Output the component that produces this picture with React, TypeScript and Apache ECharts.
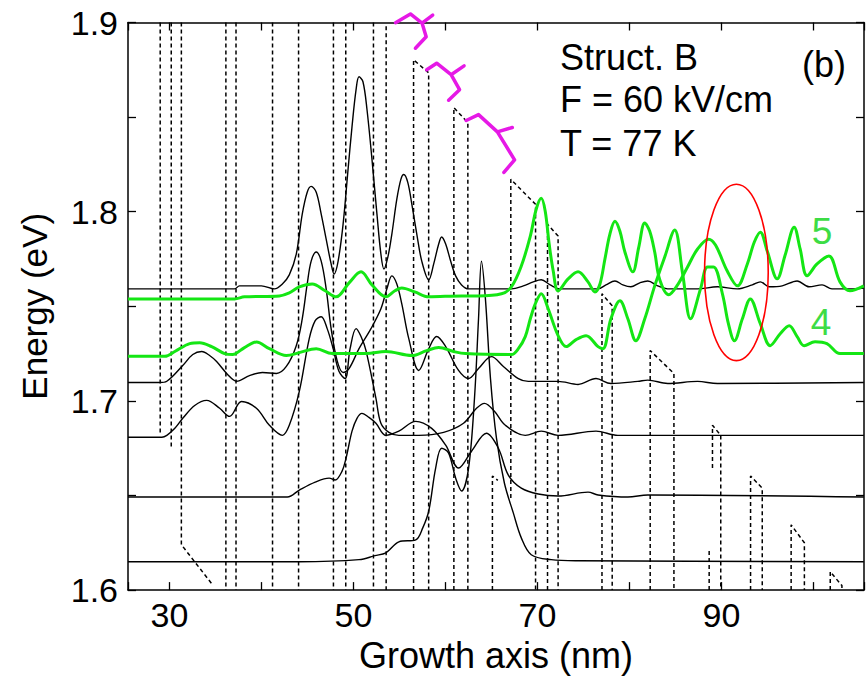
import React, { useEffect, useRef } from 'react';
import * as echarts from 'echarts';

type Pt = [number, number];

const FONT = '"Liberation Sans", Arial, Helvetica, sans-serif';

// axes
const xMin = 25.5;
const xMax = 105.5;
const yMin = 1.6;
const yMax = 1.9;
const xLabelValues = [30, 50, 70, 90];

// |psi|^2 of the states, drawn at their eigen-energies (nm, eV)
const levelA: Pt[] = [
  [25.5, 1.7592], [37.08, 1.7592], [37.62, 1.7608], [40.0, 1.7608], [41.41, 1.7592], [42.28, 1.7618],
  [43.03, 1.7666], [43.79, 1.7776], [44.44, 1.7987], [44.98, 1.8103], [45.41, 1.8134], [45.96, 1.8103],
  [46.5, 1.7987], [47.04, 1.7855], [47.58, 1.7724], [47.9, 1.7671], [48.34, 1.7739], [48.88, 1.7934],
  [49.42, 1.8224], [49.85, 1.845], [50.29, 1.8645], [50.61, 1.8713], [51.04, 1.8687], [51.48, 1.8539],
  [52.02, 1.8276], [52.56, 1.7987], [52.99, 1.7776], [53.32, 1.7697], [53.75, 1.7761], [54.18, 1.7882],
  [54.72, 1.8066], [55.16, 1.8171], [55.48, 1.8197], [55.91, 1.8155], [56.35, 1.804], [56.89, 1.7882],
  [57.43, 1.7739], [58.19, 1.764], [58.73, 1.7724], [59.27, 1.7829], [59.59, 1.7866], [60.03, 1.7829],
  [60.57, 1.7739], [61.11, 1.7661], [61.76, 1.7613], [62.52, 1.7592], [67.17, 1.7592], [68.47, 1.7608],
  [69.55, 1.7629], [70.42, 1.764], [71.39, 1.7613], [72.47, 1.7592], [76.59, 1.7592], [77.45, 1.7613],
  [78.43, 1.7634], [79.29, 1.7613], [80.16, 1.7603], [81.13, 1.7624], [82.0, 1.7634], [83.08, 1.7608],
  [84.16, 1.7592], [87.41, 1.7592], [89.57, 1.7603], [91.74, 1.7592], [93.36, 1.7613], [94.23, 1.7629],
  [95.2, 1.7603], [96.61, 1.7608], [98.23, 1.7634], [99.53, 1.7603], [100.94, 1.7613], [102.02, 1.7592],
  [103.97, 1.7592], [105.48, 1.7597],
];

const levelB: Pt[] = [
  [25.5, 1.7097], [28.96, 1.7097], [29.72, 1.7104], [31.45, 1.7187], [32.54, 1.7245], [33.51, 1.7261],
  [34.37, 1.724], [35.13, 1.7208], [36.32, 1.714], [37.3, 1.7104], [38.7, 1.7134], [40.11, 1.715],
  [41.63, 1.7145], [42.71, 1.7182], [43.79, 1.7292], [44.44, 1.7434], [44.98, 1.7618], [45.41, 1.7739],
  [45.96, 1.7787], [46.5, 1.7739], [47.04, 1.7592], [47.58, 1.7382], [48.23, 1.7213], [48.88, 1.715],
  [49.53, 1.7171], [50.61, 1.7276], [51.91, 1.7382], [52.99, 1.7487], [53.64, 1.7592], [54.18, 1.7661],
  [54.72, 1.7618], [55.26, 1.7513], [56.02, 1.7329], [57.1, 1.7161], [58.19, 1.7276], [59.05, 1.734],
  [60.03, 1.7287], [61.43, 1.7161], [62.52, 1.7118], [63.6, 1.7171], [65.0, 1.7234], [66.3, 1.7182],
  [67.93, 1.7118], [69.01, 1.7103], [72.25, 1.7103], [74.42, 1.7087], [76.37, 1.7118], [77.99, 1.7092],
  [80.91, 1.7103], [82.0, 1.711], [84.16, 1.7092], [87.41, 1.7103], [89.57, 1.7092], [105.48, 1.7097],
];

const levelC: Pt[] = [
  [25.5, 1.6808], [29.18, 1.6808], [29.72, 1.6818], [30.59, 1.6855], [31.45, 1.6908], [32.75, 1.6976],
  [34.05, 1.7003], [35.46, 1.6961], [36.54, 1.6918], [37.84, 1.6997], [39.46, 1.6961], [40.87, 1.6871],
  [42.28, 1.6818], [43.03, 1.6871], [44.12, 1.705], [45.2, 1.7329], [45.85, 1.7424], [46.5, 1.7445],
  [47.15, 1.7382], [47.8, 1.7276], [48.44, 1.7155], [49.1, 1.7118], [49.64, 1.7276], [50.29, 1.7382],
  [50.83, 1.734], [51.37, 1.7266], [52.45, 1.7013], [52.99, 1.6882], [53.86, 1.6834], [54.94, 1.6818],
  [57.1, 1.6818], [59.81, 1.6834], [61.97, 1.6882], [63.38, 1.6961], [64.25, 1.6987], [65.33, 1.6945],
  [66.52, 1.6871], [68.68, 1.6818], [70.42, 1.684], [72.25, 1.6818], [76.37, 1.684], [78.75, 1.6818],
  [105.48, 1.6818],
];

const levelD: Pt[] = [
  [25.5, 1.6492], [42.82, 1.6492], [44.12, 1.6529], [45.85, 1.6571], [47.36, 1.6592], [48.01, 1.6582],
  [48.77, 1.6629], [49.2, 1.6697], [49.85, 1.684], [50.39, 1.6908], [50.93, 1.6934], [51.69, 1.6913],
  [52.45, 1.6882], [53.53, 1.6818], [54.94, 1.684], [56.78, 1.6892], [58.51, 1.6855], [60.03, 1.6766],
  [61.43, 1.6645], [62.84, 1.6734], [64.46, 1.6829], [65.76, 1.675], [66.84, 1.6608], [68.25, 1.6539],
  [70.09, 1.6508], [72.25, 1.6497], [75.5, 1.6518], [76.59, 1.6503], [79.83, 1.6492], [82.0, 1.6503],
  [105.48, 1.6492],
];

const levelE: Pt[] = [
  [25.5, 1.615], [44.12, 1.615], [50.61, 1.6161], [52.34, 1.6182], [53.53, 1.6197], [54.94, 1.6255],
  [56.78, 1.6266], [57.54, 1.6329], [58.19, 1.6418], [58.94, 1.6645], [59.59, 1.675], [60.35, 1.6724],
  [61.11, 1.6592], [61.76, 1.6524], [62.52, 1.6645], [63.16, 1.7013], [63.6, 1.7434], [63.92, 1.7739],
  [64.35, 1.7539], [64.9, 1.7118], [65.55, 1.6803], [66.41, 1.6566], [67.38, 1.6408], [68.25, 1.6276],
  [69.33, 1.6187], [71.5, 1.6161], [74.42, 1.6155], [105.48, 1.615],
];

// green states 4 and 5
const state5: Pt[] = [
  [25.5, 1.7539], [37.08, 1.7539], [38.16, 1.755], [41.95, 1.7555], [43.03, 1.7571], [44.12, 1.7603],
  [45.52, 1.7618], [46.93, 1.7582], [48.12, 1.755], [49.53, 1.7624], [50.83, 1.7682], [52.02, 1.7613],
  [53.53, 1.755], [54.51, 1.7582], [55.26, 1.7597], [56.67, 1.7576], [58.19, 1.755], [61.76, 1.7555],
  [63.6, 1.7555], [66.09, 1.7566], [67.17, 1.7603], [68.25, 1.7713], [69.23, 1.7871], [69.87, 1.8013],
  [70.42, 1.8071], [70.85, 1.8003], [71.28, 1.7829], [71.72, 1.7687], [72.25, 1.7582], [73.34, 1.7645],
  [74.42, 1.7682], [75.5, 1.7629], [76.26, 1.7576], [76.8, 1.7618], [77.34, 1.775], [77.88, 1.7882],
  [78.43, 1.795], [78.97, 1.7897], [79.51, 1.7787], [80.37, 1.7682], [81.02, 1.7813], [81.67, 1.794],
  [82.21, 1.7897], [82.75, 1.7787], [83.3, 1.764], [84.27, 1.7561], [85.24, 1.7613], [86.32, 1.7708],
  [87.41, 1.7803], [88.6, 1.7855], [89.36, 1.7824], [90.65, 1.7685], [91.74, 1.7608], [92.82, 1.7724],
  [93.58, 1.784], [94.23, 1.7892], [94.98, 1.7792], [96.07, 1.7645], [96.93, 1.7771], [97.91, 1.7918],
  [98.56, 1.7803], [99.31, 1.7661], [100.4, 1.7724], [101.69, 1.7766], [102.89, 1.7629], [103.97, 1.7582],
  [105.48, 1.7608],
];

const state4: Pt[] = [
  [25.5, 1.7236], [29.51, 1.7236], [30.59, 1.7261], [32.21, 1.7303], [33.29, 1.7308], [34.59, 1.7287],
  [36.0, 1.725], [36.86, 1.7245], [38.16, 1.7282], [39.46, 1.7311], [40.87, 1.7276], [42.71, 1.724],
  [44.12, 1.7255], [45.96, 1.7276], [47.69, 1.725], [51.37, 1.725], [53.53, 1.7261], [56.35, 1.724],
  [57.97, 1.7266], [59.27, 1.7282], [60.89, 1.7261], [62.19, 1.725], [67.17, 1.7245], [67.93, 1.7276],
  [68.68, 1.734], [69.23, 1.7434], [69.77, 1.7513], [70.42, 1.7566], [71.17, 1.7487], [72.25, 1.7345],
  [73.12, 1.7287], [74.2, 1.7324], [75.29, 1.7345], [76.59, 1.7287], [77.13, 1.7276], [77.99, 1.7434],
  [78.97, 1.7529], [79.83, 1.7434], [80.7, 1.7318], [81.67, 1.7434], [82.75, 1.7608], [83.84, 1.7761],
  [84.92, 1.7903], [85.79, 1.7671], [86.65, 1.7434], [87.73, 1.7592], [88.49, 1.7708], [89.14, 1.7708],
  [90.11, 1.7566], [90.76, 1.7408], [91.41, 1.7318], [92.28, 1.7434], [93.14, 1.7539], [94.23, 1.7408],
  [95.31, 1.7292], [96.39, 1.7355], [97.37, 1.7397], [98.23, 1.734], [98.99, 1.7292], [100.18, 1.7313],
  [101.47, 1.7303], [102.89, 1.725], [105.48, 1.725],
];

// conduction band profile (dashed), as drawn pieces (nm, eV)
const bandProfile: Pt[][] = [
  [[29.0, 1.9], [29.0, 1.6818]],
  [[30.2, 1.9], [30.2, 1.675]],
  [[31.3, 1.9], [31.3, 1.624], [34.6, 1.6034]],
  [[36.14, 1.9], [36.14, 1.6]],
  [[37.24, 1.9], [37.24, 1.6]],
  [[41.21, 1.9], [41.21, 1.6]],
  [[44.04, 1.9], [44.04, 1.6]],
  [[47.83, 1.9], [47.83, 1.6]],
  [[49.17, 1.9], [49.17, 1.6]],
  [[52.18, 1.9], [52.18, 1.6]],
  [[53.56, 1.898], [53.56, 1.6]],
  [[56.54, 1.6], [56.54, 1.8803], [58.18, 1.8734], [58.18, 1.6]],
  [[60.92, 1.6], [60.92, 1.855], [62.44, 1.8471], [62.44, 1.6]],
  [[65.11, 1.6], [65.11, 1.6603], [65.7, 1.658]],
  [[67.11, 1.6487], [67.11, 1.8171], [69.8, 1.8039], [69.8, 1.6]],
  [[71.1, 1.6], [71.1, 1.7934], [72.25, 1.7871], [72.25, 1.6]],
  [[77.02, 1.6], [77.02, 1.7566], [78.13, 1.7503], [78.13, 1.6]],
  [[82.26, 1.6], [82.26, 1.7266], [84.84, 1.7145], [84.84, 1.6]],
  [[88.67, 1.6], [88.67, 1.6213]],
  [[89.03, 1.6645], [89.03, 1.6871], [89.93, 1.6818], [89.93, 1.6]],
  [[93.17, 1.6], [93.17, 1.6603], [94.44, 1.6539], [94.44, 1.6]],
  [[97.58, 1.6], [97.58, 1.6345], [99.02, 1.625], [99.02, 1.6]],
  [[101.83, 1.6], [101.83, 1.6097], [103.1, 1.6024], [103.1, 1.6]],
];

// magenta braces (nm, eV)
const braces: Pt[][] = [
  [[54.58, 1.8999], [56.2, 1.9045], [57.46, 1.8997], [58.62, 1.9039], [57.46, 1.8997], [57.91, 1.8925], [56.74, 1.8864]],
  [[57.97, 1.875], [59.05, 1.8785], [60.62, 1.8724], [62.03, 1.8771], [60.62, 1.8724], [61.54, 1.8645], [60.35, 1.8589]],
  [[62.26, 1.8482], [63.6, 1.8513], [65.65, 1.8422], [67.27, 1.8445], [65.65, 1.8422], [67.52, 1.8274], [66.36, 1.8208]],
];

// anticrossing highlight (nm, eV)
const anticrossing = { center: [91.63, 1.7679] as Pt, halfWidth: 3.46, halfHeight: 0.0466 };

const annotations = [
  { text: 'Struct. B', x: 560, y: 57.5, size: 36, color: '#000', align: 'left' },
  { text: 'F = 60 kV/cm', x: 560, y: 99.5, size: 36, color: '#000', align: 'left' },
  { text: 'T = 77 K', x: 560, y: 143, size: 36, color: '#000', align: 'left' },
  { text: '(b)', x: 802, y: 64, size: 36, color: '#000', align: 'left' },
  { text: '5', x: 822, y: 231.5, size: 37, color: '#3ddc45', align: 'center' },
  { text: '4', x: 821, y: 322.5, size: 37, color: '#3ddc45', align: 'center' },
];

const GREEN = '#14e614';

export default function App() {
  const ref = useRef<HTMLDivElement>(null);
  useEffect(() => {
    if (!ref.current) return;
    const chart = echarts.init(ref.current, undefined, { renderer: 'svg' });

    const axisLine = { show: true, lineStyle: { color: '#000', width: 1.5 } };
    const axisTick = { show: true, inside: true, length: 8, lineStyle: { color: '#000', width: 1.3 } };
    const xFmt = (v: number) => (xLabelValues.some((t) => Math.abs(t - v) < 1e-6) ? String(Math.round(v)) : '');
    const yFmt = (v: number) => (Math.abs(v * 10 - Math.round(v * 10)) < 1e-6 ? v.toFixed(1) : '');

    const series: any[] = [];
    bandProfile.forEach((seg, i) => {
      series.push({
        type: 'line', name: 'band' + i, data: seg, symbol: 'none', silent: true, z: 1,
        lineStyle: { color: '#000', width: 1.5, type: [4, 3] },
      });
    });
    [levelA, levelB, levelC, levelD, levelE].forEach((s, i) => {
      series.push({
        type: 'line', name: 'level' + i, data: s, symbol: 'none', smooth: 0.35, silent: true, z: 2,
        lineStyle: { color: '#000', width: 1.4 },
      });
    });
    [state4, state5].forEach((s, i) => {
      series.push({
        type: 'line', name: 'state' + (i + 4), data: s, symbol: 'none', smooth: 0.35, silent: true, z: 3,
        lineStyle: { color: GREEN, width: 3 },
      });
    });
    braces.forEach((b, i) => {
      series.push({
        type: 'line', name: 'brace' + i, data: b, symbol: 'none', clip: false, silent: true, z: 4,
        lineStyle: { color: '#e619e6', width: 3.5, cap: 'round', join: 'round' },
      });
    });

    chart.setOption({
      animation: false,
      backgroundColor: '#fff',
      textStyle: { fontFamily: FONT },
      grid: { left: 128, right: 0, top: 22.5, bottom: 85.5, containLabel: false },
      xAxis: [
        {
          type: 'value', position: 'bottom', min: xMin, max: xMax, splitNumber: 8,
          axisLine, axisTick, splitLine: { show: false },
          axisLabel: { fontSize: 34, color: '#000', fontFamily: FONT, margin: 8, formatter: xFmt },
          name: 'Growth axis (nm)', nameLocation: 'middle', nameGap: 45,
          nameTextStyle: { fontSize: 36, color: '#000', fontFamily: FONT },
        },
        {
          type: 'value', position: 'top', min: xMin, max: xMax, splitNumber: 8,
          axisLine, axisTick, splitLine: { show: false }, axisLabel: { show: false },
        },
      ],
      yAxis: [
        {
          type: 'value', position: 'left', min: yMin, max: yMax, interval: 0.05,
          axisLine, axisTick, splitLine: { show: false },
          axisLabel: { fontSize: 34, color: '#000', fontFamily: FONT, margin: 10, formatter: yFmt },
          name: 'Energy (eV)', nameLocation: 'middle', nameGap: 76,
          nameTextStyle: { fontSize: 35, color: '#000', fontFamily: FONT },
        },
        {
          type: 'value', position: 'right', min: yMin, max: yMax, interval: 0.05,
          axisLine, axisTick, splitLine: { show: false }, axisLabel: { show: false },
        },
      ],
      series,
    });

    const c = chart.convertToPixel({ gridIndex: 0 }, anticrossing.center) as number[];
    const cx2 = chart.convertToPixel({ gridIndex: 0 }, [anticrossing.center[0] + anticrossing.halfWidth, anticrossing.center[1] + anticrossing.halfHeight]) as number[];
    const rx = Math.abs(cx2[0] - c[0]);
    const ry = Math.abs(cx2[1] - c[1]);

    chart.setOption({
      graphic: [
        ...annotations.map((a) => ({
          type: 'text', x: a.x, y: a.y, z: 100,
          style: { text: a.text, font: `${a.size}px ${FONT}`, fill: a.color, align: a.align, verticalAlign: 'middle' },
        })),
        {
          type: 'ellipse', z: 100,
          shape: { cx: c[0], cy: c[1], rx, ry },
          style: { fill: 'none', stroke: '#ff0000', lineWidth: 1.6 },
        },
      ],
    });

    return () => chart.dispose();
  }, []);
  return <div ref={ref} style={{ position: 'fixed', left: 0, top: 0, width: 867, height: 678, background: '#fff' }} />;
}
